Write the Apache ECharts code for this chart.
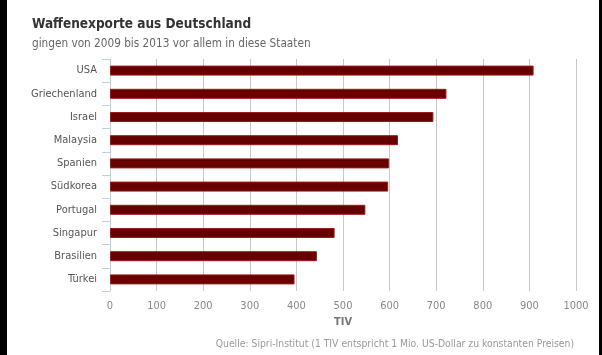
<!DOCTYPE html>
<html><head><meta charset="utf-8">
<script src="https://cdn.jsdelivr.net/npm/echarts@6/dist/echarts.min.js"></script>
<style>
html,body{margin:0;padding:0;background:#000;}
#wrap{position:absolute;left:7px;top:0;width:592px;height:355px;background:#fff;overflow:hidden;}
#chart{position:absolute;left:-7px;top:0;width:602px;height:355px;}
</style></head>
<body><div id="wrap"><div id="chart"></div></div>
<script>
const categories = ["USA","Griechenland","Israel","Malaysia","Spanien","Südkorea","Portugal","Singapur","Brasilien","Türkei"];
const values = [909, 722, 694, 618, 599, 597, 548, 482, 444, 396];
const titleText = "Waffenexporte aus Deutschland";
const subtitleText = "gingen von 2009 bis 2013 vor allem in diese Staaten";
const axisName = "TIV";
const creditText = "Quelle: Sipri-Institut (1 TIV entspricht 1 Mio. US-Dollar zu konstanten Preisen)";

const font = "'DejaVu Sans Condensed', 'DejaVu Sans', sans-serif";
const chart = echarts.init(document.getElementById('chart'), null, {renderer:'canvas'});
chart.setOption({
  animation:false,
  backgroundColor:'transparent',
  textStyle:{fontFamily:font},
  title:[{
    text:titleText, left:27, top:12,
    textStyle:{fontFamily:font, fontSize:13.5, fontWeight:'bold', color:'#333'},
  },{
    text:subtitleText, left:27, top:33,
    textStyle:{fontFamily:font, fontSize:11.7, fontWeight:'normal', color:'#666'}
  }],
  graphic:[{
    type:'text', right:28, top:339,
    style:{text:creditText, fontFamily:font, fontSize:10.3, fill:'#999'}
  }],
  grid:{left:110, right:26, top:59, bottom:64},
  xAxis:{
    type:'value', min:0, max:1000, interval:100,
    name:axisName, nameLocation:'middle', nameGap:26,
    nameTextStyle:{fontFamily:font, fontSize:11, fontWeight:'bold', color:'#777'},
    axisLine:{show:false}, axisTick:{show:false},
    axisLabel:{fontFamily:font, fontSize:11, color:'#888', margin:10, formatter:function(v){return String(v);}},
    splitLine:{show:true, lineStyle:{color:'#c8c8c8', width:1}}
  },
  yAxis:{
    type:'category', data:categories, inverse:true,
    axisLine:{show:true, lineStyle:{color:'#C0D0E0'}},
    axisTick:{show:true, length:8, lineStyle:{color:'#C0D0E0'}},
    axisLabel:{fontFamily:font, fontSize:11, color:'#555', margin:13},
    splitLine:{show:false}
  },
  series:[{
    type:'bar', data:values, barWidth:10,
    itemStyle:{color:'#660000', borderColor:'#a01818', borderWidth:1}
  }]
});
</script></body></html>
